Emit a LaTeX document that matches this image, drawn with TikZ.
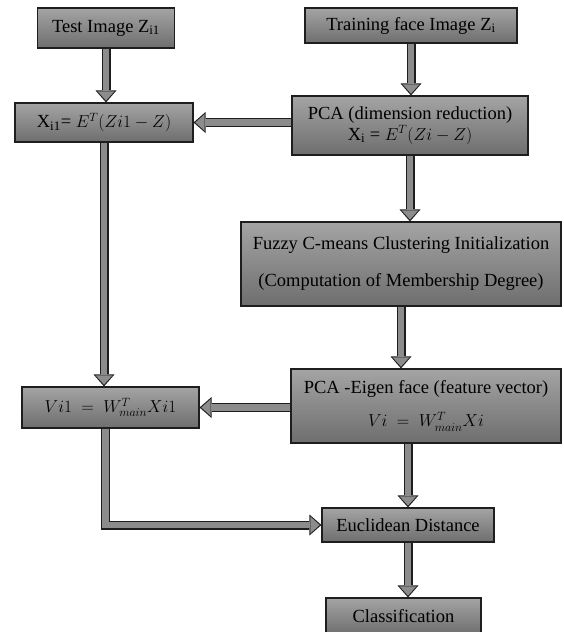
\documentclass[tikz,border=0pt]{standalone}
\usepackage{fontspec}
\setmainfont{Liberation Serif}
\usepackage{amsmath}
\usepackage{xcolor}
\usetikzlibrary{positioning, arrows.meta}
\definecolor{boxtop}{RGB}{164,164,164}
\definecolor{boxbot}{RGB}{110,110,110}
\definecolor{edgegray}{RGB}{30,30,30}
\definecolor{arrowgray}{RGB}{140,140,140}

\begin{document}
\begin{tikzpicture}[x=1pt, y=-1pt,
  stage/.style={draw=edgegray, line width=1.1pt, top color=boxtop,
              bottom color=boxbot, align=center, inner sep=0pt,
              font=\fontsize{18.5}{21}\selectfont},
  fat/.style={line width=9pt, draw=edgegray, line join=miter,
              -{Triangle[length=12pt,width=21pt,line width=0pt]},
              postaction={draw=arrowgray, line width=6.6pt, shorten >=1.8pt,
              -{Triangle[length=9.2pt,width=16.6pt,line width=0pt]}}}
]
  \useasboundingbox (0,0) rectangle (563,632);
  \node[stage, minimum width=137pt, minimum height=40pt] (test)  at (106,28)
    {Test Image Z\textsubscript{i1}};
  \node[stage, minimum width=212pt, minimum height=35pt] (train) at (411,25.5)
    {Training face Image Z\textsubscript{i}};
  \node[stage, minimum width=178pt, minimum height=39pt] (xi1)   at (104,122.5)
    {X\textsubscript{i1}= $E^T(Zi1-Z)$};
  \node[stage, minimum width=236pt, minimum height=59pt] (pca)   at (410,125.5)
    {PCA (dimension reduction)\\X\textsubscript{i} = $E^T(Zi-Z)$};
  \node[stage, minimum width=320pt, minimum height=84pt] (fuzzy) at (401,264)
    {Fuzzy C-means Clustering Initialization\\[16pt](Computation of Membership Degree)};
  \node[stage, minimum width=177pt, minimum height=41pt] (vi1)   at (110.5,407.5)
    {$Vi1\ =\ W^T_{main}Xi1$};
  \node[stage, minimum width=270pt, minimum height=74pt] (eigen) at (426,406)
    {PCA -Eigen face (feature vector)\\[12pt]$Vi\ =\ W^T_{main}Xi$};
  \node[stage, minimum width=172pt, minimum height=34pt] (eucl)  at (408,525)
    {Euclidean Distance};
  \node[stage, minimum width=155pt, minimum height=36pt] (cls)   at (403.5,616)
    {Classification};
  \draw[fat] (test.south) -- (test.south |- xi1.north);
  \draw[fat] (train.south) -- (train.south |- pca.north);
  \draw[fat] (pca.west |- xi1.east) -- (xi1.east);
  \draw[fat] (pca.south) -- (pca.south |- fuzzy.north);
  \draw[fat] (xi1.south) -- (xi1.south |- vi1.north);
  \draw[fat] (fuzzy.south) -- (fuzzy.south |- eigen.north);
  \draw[fat] (eigen.west |- vi1.east) -- (vi1.east);
  \draw[fat] (eucl.north |- eigen.south) -- (eucl.north);
  \draw[fat] ([xshift=-5pt]vi1.south) |- (eucl.west);
  \draw[fat] (eucl.south) -- (eucl.south |- cls.north);
\end{tikzpicture}
\end{document}
